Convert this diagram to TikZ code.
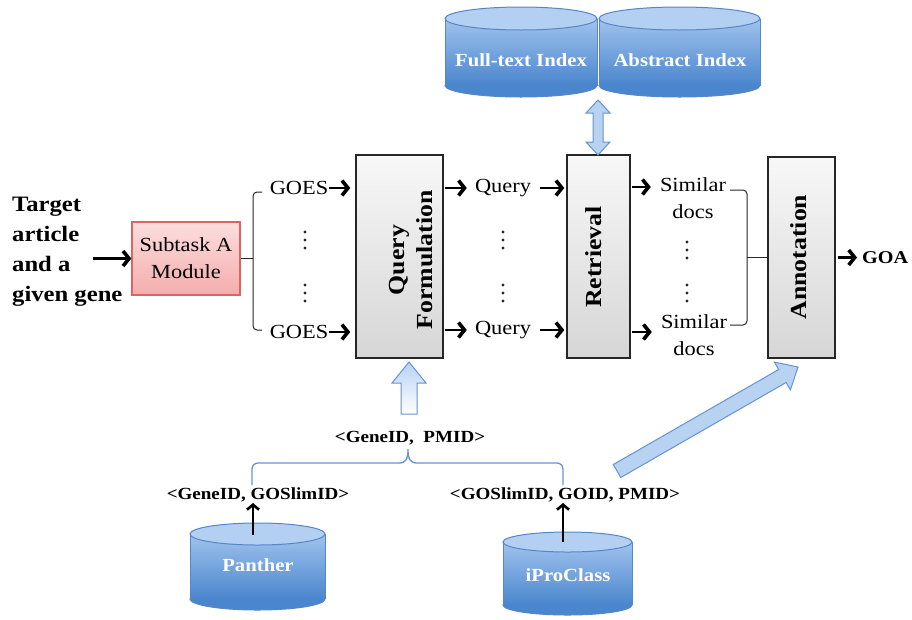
\documentclass[tikz,border=0pt]{standalone}
\usepackage{fontspec}
\setmainfont{Liberation Serif}[FakeStretch=1.12]
\usetikzlibrary{arrows.meta}
\definecolor{pinktop}{RGB}{252,222,222}
\definecolor{pinkbot}{RGB}{245,172,172}
\definecolor{pinkdraw}{RGB}{222,100,100}
\definecolor{cylline}{RGB}{86,134,200}
\definecolor{cyltop}{RGB}{160,195,238}
\definecolor{cylbot}{RGB}{74,134,205}
\definecolor{arrfill}{RGB}{184,210,242}
\definecolor{arrline}{RGB}{100,148,212}
\newcommand{\mycyl}[5]{%
 \pgfmathsetmacro{\cylcx}{(#1+#2)/2}\pgfmathsetmacro{\cylrx}{(#2-#1)/2}%
 \pgfmathsetmacro{\cylyt}{#3+#5}\pgfmathsetmacro{\cylyb}{#4-#5}%
 \fill[cylbot, draw=cylline, line width=1pt] (\cylcx,\cylyb) ellipse[x radius=\cylrx pt, y radius=#5pt];
 \shade[top color=cyltop, bottom color=cylbot] (#1,\cylyt) rectangle (#2,\cylyb);
 \draw[cylline, line width=1pt] (#1,\cylyt) -- (#1,\cylyb) (#2,\cylyt) -- (#2,\cylyb);
 \fill[cyltop!80!white, draw=cylline, line width=1pt] (\cylcx,\cylyt) ellipse[x radius=\cylrx pt, y radius=#5pt];
}
\newcommand{\dotcol}[2]{\foreach \dy in {-8,0,8} {\fill[black!85] (#1,#2+\dy) circle[radius=1.7pt];}}
\begin{document}
\begin{tikzpicture}[x=1pt,y=-1pt,
  reg/.style={font=\fontsize{20}{27}\selectfont, inner sep=1pt},
  lbl/.style={font=\bfseries\fontsize{17}{20}\selectfont, inner sep=1pt},
  boxtext/.style={font=\bfseries\fontsize{23}{28}\selectfont, rotate=90, align=center, inner sep=0pt},
  cyltext/.style={font=\bfseries\fontsize{18.5}{20}\selectfont, text=white, inner sep=0pt},
  graybox/.style={draw=black!85, line width=1.5pt, top color=gray!6, bottom color=gray!32, inner sep=0pt},
  arr/.style={line width=2.6pt, -{Straight Barb[length=6pt,width=15pt,line width=3.6pt]}},
  arrthin/.style={line width=1.6pt, -{Straight Barb[length=5pt,width=12pt,line width=2.6pt]}},
  brace/.style={line width=1pt, black!85, rounded corners=4pt},
  bluebr/.style={line width=1.3pt, arrline},
  fatarrow/.style={draw=arrline, line width=1pt, fill=arrfill}]
\useasboundingbox (0,0) rectangle (912,619);

% ---- index cylinders
\mycyl{445}{597}{7}{97}{11.5}
\mycyl{599}{760}{7}{97}{11.5}
\node[cyltext] (ft) at (521,60) {Full-text Index};
\node[cyltext] (ab) at (680,60) {Abstract Index};

% ---- left input
\node[font=\bfseries\fontsize{22}{30}\selectfont, align=left, anchor=west, inner sep=0pt] (target) at (12,252) {Target\\article\\and a\\given gene};
\node[draw=pinkdraw, line width=1.3pt, top color=pinktop, bottom color=pinkbot, minimum width=108pt, minimum height=73pt, align=center, reg] (sub) at (186,258.5) {Subtask A\\Module};
\coordinate (tin) at (93,258.5);
\draw[arr] (tin) -- (sub.west);

% ---- processing boxes
\node[graybox, minimum width=87pt, minimum height=203pt] (qf) at (399.5,256.5) {};
\node[boxtext] (qft) at (411,260) {Query\\Formulation};
\node[graybox, minimum width=63pt, minimum height=203pt] (ret) at (598.5,256.5) {};
\node[boxtext] (rett) at (594,257) {Retrieval};
\node[graybox, minimum width=67pt, minimum height=201pt] (ann) at (801.5,257.5) {};
\node[boxtext] (annt) at (799,257) {Annotation};

% ---- GOES
\node[reg] (goes1) at (299,188) {GOES};
\node[reg] (goes2) at (299,332) {GOES};
\draw[brace] (262,192) -- (253,192) -- (253,330) -- (262,330);
\draw[line width=1pt, black!85] (sub.east) -- (253,258.5);
\draw[arr, shorten >=5pt] (goes1.east) -- (qf.west |- goes1.east);
\draw[arr, shorten >=5pt] (goes2.east) -- (qf.west |- goes2.east);
\dotcol{305}{240}
\dotcol{305}{293}

% ---- Query
\node[reg] (q1) at (503,188) {Query};
\node[reg] (q2) at (503,330) {Query};
\draw[arr, shorten <=1pt, shorten >=7pt] (qf.east |- q1) -- (q1.west);
\draw[arr, shorten <=1pt, shorten >=7pt] (qf.east |- q2) -- (q2.west);
\draw[arr, shorten <=8pt, shorten >=2pt] (q1.east) -- (ret.west |- q1.east);
\draw[arr, shorten <=8pt, shorten >=2pt] (q2.east) -- (ret.west |- q2.east);
\dotcol{503}{240}
\dotcol{503}{293}

% ---- Similar docs
\node[reg, align=center] (s1) at (693,198.5) {Similar\\docs};
\node[reg, align=center] (s2) at (694,335) {Similar\\docs};
\coordinate (ya) at (0,187);
\coordinate (yb) at (0,332);
\draw[arr, shorten <=1pt, shorten >=8pt] (ret.east |- ya) -- (s1.west |- ya);
\draw[arr, shorten <=1pt, shorten >=8pt] (ret.east |- yb) -- (s2.west |- yb);
\dotcol{687}{250}
\dotcol{687}{293}
\draw[brace] (730,190) -- (747,190) -- (747,325) -- (730,325);
\draw[line width=1pt, black!85] (747,257.5) -- (ann.west);

% ---- GOA
\node[font=\bfseries\fontsize{18}{20}\selectfont, anchor=west, inner sep=0pt] (goa) at (862,257.5) {GOA};
\draw[arr, shorten <=2pt, shorten >=5pt] (ann.east) -- (goa.west);

% ---- double arrow index <-> retrieval
\draw[fatarrow] (598,100) -- (610,113) -- (603,113) -- (603,142) -- (610,142) -- (598,155)
  -- (586,142) -- (593,142) -- (593,113) -- (586,113) -- cycle;

% ---- up arrow into Query Formulation
\draw[draw=arrline, line width=1pt, top color=arrfill, bottom color=white] (409,362) -- (426,383) -- (417,383) -- (417,414) -- (401,414) -- (401,383) -- (392,383) -- cycle;

% ---- bottom labels and bracket
\node[lbl] (gp) at (410,438) {<GeneID,\ \ PMID>};
\draw[bluebr, rounded corners=6pt] (252,485) -- (252,463) -- (399,463);
\draw[bluebr] (399,463) .. controls (406,463) and (408,459) .. (408,449) .. controls (408,459) and (410,463) .. (417,463);
\draw[bluebr, rounded corners=6pt] (417,463) -- (563,463) -- (563,485);
\node[lbl] (gs) at (258,495) {<GeneID, GOSlimID>};
\node[lbl] (ggp) at (565,495) {<GOSlimID, GOID, PMID>};

% ---- bottom cylinders
\mycyl{190}{325}{523}{610}{11}
\mycyl{503}{632}{532}{615}{10}
\node[cyltext] (pa) at (258,565) {Panther};
\node[cyltext] (ip) at (568,575) {iProClass};
\coordinate (pa0) at (253,535);
\coordinate (pa1) at (253,503);
\coordinate (ip0) at (563,542);
\coordinate (ip1) at (563,503);
\draw[arrthin] (pa0) -- (pa1);
\draw[arrthin] (ip0) -- (ip1);

% ---- diagonal arrow into Annotation
\draw[fatarrow] (620.7,477.5) -- (786.1,382.5) -- (790.4,389.9) -- (798,367) -- (774.4,362.1) -- (778.7,369.5) -- (613.3,464.5) -- cycle;
\end{tikzpicture}
\end{document}
